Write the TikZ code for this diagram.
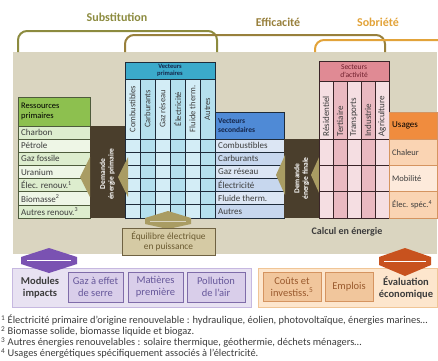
\documentclass[tikz,border=0pt]{standalone}
\usepackage{fontspec}
\setmainfont{Carlito}
\definecolor{beige}{HTML}{DAD5C0}
\definecolor{resHead}{HTML}{8DC04F}
\definecolor{resA}{HTML}{DDEDCE}
\definecolor{resB}{HTML}{EEF6E6}
\definecolor{resLine}{HTML}{4E5B3C}
\definecolor{panel}{HTML}{4A3E2C}
\definecolor{khaki}{HTML}{A99C63}
\definecolor{vpHead}{HTML}{3BAACB}
\definecolor{vpA}{HTML}{D3EDF6}
\definecolor{vpB}{HTML}{B5E0EE}
\definecolor{gridCol}{HTML}{1E2B3A}
\definecolor{vsHead}{HTML}{4F8AD6}
\definecolor{vsA}{HTML}{DCE6F4}
\definecolor{vsB}{HTML}{C7D7EE}
\definecolor{navy}{HTML}{14254A}
\definecolor{saHead}{HTML}{E08A94}
\definecolor{saA}{HTML}{F5DEE2}
\definecolor{saB}{HTML}{EAB9C1}
\definecolor{pkLine}{HTML}{3A2428}
\definecolor{saText}{HTML}{6E1E2C}
\definecolor{usHead}{HTML}{F08C3E}
\definecolor{usA}{HTML}{FAD4B3}
\definecolor{usB}{HTML}{FDEADB}
\definecolor{subCol}{HTML}{8C8B3F}
\definecolor{effCol}{HTML}{98803C}
\definecolor{sobCol}{HTML}{E2A33A}
\definecolor{eqFill}{HTML}{D5CAA4}
\definecolor{eqLine}{HTML}{6F6242}
\definecolor{eqText}{HTML}{6A5A30}
\definecolor{purBand}{HTML}{E8E2F2}
\definecolor{purBandLine}{HTML}{C6B8E0}
\definecolor{purBox}{HTML}{D9CEEA}
\definecolor{purLine}{HTML}{7F6CA9}
\definecolor{purText}{HTML}{66579A}
\definecolor{purArrow}{HTML}{7A52B2}
\definecolor{orBand}{HTML}{FDE6CD}
\definecolor{orBandLine}{HTML}{F0C596}
\definecolor{orBox}{HTML}{F1C69C}
\definecolor{orLine}{HTML}{D59460}
\definecolor{orText}{HTML}{9A5A2E}
\definecolor{orArrow}{HTML}{C8521E}
\definecolor{txtCol}{HTML}{3C3C3C}
\begin{document}
\begin{tikzpicture}[x=1pt, y=-1pt,
    txt/.style={anchor=west, inner sep=0pt, text=txtCol, font=\fontsize{9}{9}\selectfont},
    head/.style={align=left, inner sep=0pt, font=\fontsize{7}{8}\selectfont},
    colname/.style={rotate=90, inner sep=0pt, text=txtCol, font=\fontsize{8.5}{9}\selectfont},
    demand/.style={rotate=90, align=center, inner sep=0pt, text=white, font=\bfseries\fontsize{7.5}{8.5}\selectfont},
    bracket/.style={line width=2pt, rounded corners=9pt},
    bigtitle/.style={inner sep=0pt, font=\bfseries\fontsize{12}{13}\selectfont},
    modbox/.style={align=center, inner sep=0pt, font=\fontsize{10.5}{12}\selectfont},
    note/.style={anchor=west, inner sep=0pt, text=txtCol, font=\fontsize{10.4}{11}\selectfont}]

      \useasboundingbox (0,0) rectangle (438,360);

      \fill[beige] (13,52) rectangle (437,254);

      \draw[bracket, subCol] (18,52) -- (18,31) -- (217,31) -- (217,52);
      \draw[bracket, effCol] (125,52) -- (125,35) -- (385,35) -- (385,52);
      \draw[bracket, sobCol] (315,52) -- (315,40) -- (445,40);
      \node[bigtitle, text=subCol] (subst) at (117,17) {Substitution};
      \node[bigtitle, text=effCol] (effic) at (278,22) {Efficacité};
      \node[bigtitle, text=sobCol] (sobri) at (378,22) {Sobriété};

      \filldraw[fill=resHead, draw=resLine, line width=0.6pt] (18,97) rectangle (90,126);
      \node[head, anchor=west, text=black, font=\fontsize{8.5}{10}\selectfont] (resT) at (21,111.5) {Ressources\\primaires};
      \foreach \t/\c [count=\i] in {Charbon/resA, Pétrole/resB, Gaz fossile/resA, Uranium/resB,
          Élec. renouv.\textsuperscript{1}/resA, Biomasse\textsuperscript{2}/resB, Autres renouv.\textsuperscript{3}/resA}
      {
        \filldraw[fill=\c, draw=resLine, line width=0.6pt] (18,{112.85+13.15*\i}) rectangle (90,{126+13.15*\i});
        \node[txt] (res\i) at (21,{119.4+13.15*\i}) {\t};
      }

      \fill[panel] (90,126) rectangle (125,218);
      \node[demand] (dprim) at (107.5,174) {Demande\\énergie primaire};

      \filldraw[fill=vpHead, draw=gridCol, line width=0.8pt] (125,62) rectangle (215,79);
      \node[head, align=center, text=navy, font=\bfseries\fontsize{6.5}{7.5}\selectfont] (vpT) at (170,70.5) {Vecteurs\\primaires};
      \foreach \t/\c [count=\i] in {Combustibles/vpA, Carburants/vpB, Gaz réseau/vpA, Électricité/vpB, Fluide therm./vpA, Autres/vpB}
      {
        \filldraw[fill=\c, draw=gridCol, line width=0.8pt] ({110+15*\i},79) rectangle ({125+15*\i},218);
        \node[colname] (vp\i) at ({117.5+15*\i},109) {\t};
      }
      \foreach \j in {0,...,5}
      \draw[gridCol, line width=0.8pt] (125,{139+13.15*\j}) -- (215,{139+13.15*\j});

      \filldraw[fill=vsHead, draw=gridCol, line width=0.6pt] (215,112) rectangle (284,139);
      \node[head, anchor=west, text=navy, font=\bfseries\fontsize{7.5}{9}\selectfont] (vsT) at (218,125.5) {Vecteurs\\secondaires};
      \foreach \t/\c [count=\i] in {Combustibles/vsA, Carburants/vsB, Gaz réseau/vsA, Électricité/vsB, Fluide therm./vsA, Autres/vsB}
      {
        \filldraw[fill=\c, draw=gridCol, line width=0.6pt] (215,{125.85+13.15*\i}) rectangle (284,{139+13.15*\i});
        \node[txt] (vs\i) at (218,{132.4+13.15*\i}) {\t};
      }

      \fill[panel] (284,139) rectangle (319,218);
      \node[demand] (dfin) at (301.5,178.5) {Demande\\énergie finale};

      \fill[khaki] (80,177) -- (90,157) -- (90,197) -- cycle;
      \fill[khaki] (118,177) -- (128,157) -- (128,197) -- cycle;
      \fill[khaki] (276,175) -- (285,155) -- (285,195) -- cycle;
      \fill[khaki] (311,175) -- (320,155) -- (320,195) -- cycle;

      \filldraw[fill=saHead, draw=pkLine, line width=0.8pt] (319,61) rectangle (389,81);
      \node[head, align=center, text=saText, font=\fontsize{7.5}{8.5}\selectfont] (saT) at (354,71) {Secteurs\\d'activité};
      \foreach \t/\c [count=\i] in {Résidentiel/saA, Tertiaire/saB, Transports/saA, Industrie/saB, Agriculture/saA}
      {
        \filldraw[fill=\c, draw=pkLine, line width=0.8pt] ({305+14*\i},81) rectangle ({319+14*\i},218);
        \node[colname, anchor=west, font=\fontsize{9}{9}\selectfont] (sa\i) at ({312+14*\i},136.5) {\t};
      }
      \foreach \j in {0,...,2}
      \draw[pkLine, line width=0.8pt] (319,{139+26.33*\j}) -- (389,{139+26.33*\j});

      \filldraw[fill=usHead, draw=orLine, line width=0.6pt] (389,112) rectangle (437,139);
      \node[txt, text=black] (usT) at (392,125.5) {Usages};
      \foreach \t/\c [count=\i] in {Chaleur/usA, Mobilité/usB, Élec. spéc.\textsuperscript{4}/usA}
      {
        \filldraw[fill=\c, draw=orLine, line width=0.6pt] (389,{112.67+26.33*\i}) rectangle (437,{139+26.33*\i});
        \node[txt, font=\fontsize{8.5}{9}\selectfont] (us\i) at (392,{125.8+26.33*\i}) {\t};
      }

      \node[inner sep=0pt, text=txtCol, font=\bfseries\fontsize{10}{11}\selectfont] (calc) at (347,232) {Calcul en énergie};

      \fill[khaki] (168,211) -- (191,218) -- (191,224) -- (168,229) -- (145,224) -- (145,218) -- cycle;
      \draw[beige, line width=1pt] (150,221) -- (186,221);
      \filldraw[fill=eqFill, draw=eqLine, line width=1pt] (122,228) rectangle (215,255);
      \node[modbox, text=eqText, font=\fontsize{9.4}{10.5}\selectfont] (equi) at (168.5,241.5) {Équilibre électrique\\en puissance};

      \filldraw[fill=purBand, draw=purBandLine, line width=1pt] (12,268) rectangle (251,307);
      \node[modbox, font=\bfseries\fontsize{10.5}{12}\selectfont, text=txtCol] (modimp) at (40,288) {Modules\\impacts};
      \filldraw[fill=purBox, draw=purLine, line width=0.8pt] (68,272) rectangle (123,302);
      \node[modbox, text=purText] (ges) at (95.5,287) {Gaz à effet\\de serre};
      \filldraw[fill=purBox, draw=purLine, line width=0.8pt] (128,272) rectangle (183,302);
      \node[modbox, text=purText] (mat) at (155.5,287) {Matières\\première};
      \filldraw[fill=purBox, draw=purLine, line width=0.8pt] (187,272) rectangle (245,302);
      \node[modbox, text=purText] (poll) at (216,287) {Pollution\\de l'air};

      \filldraw[fill=orBand, draw=orBandLine, line width=1pt] (258,268) rectangle (437,307);
      \filldraw[fill=orBox, draw=orLine, line width=0.8pt] (263,272) rectangle (321,301);
      \node[modbox, text=orText] (cout) at (292,286.5) {Coûts et\\investiss.\textsuperscript{5}};
      \filldraw[fill=orBox, draw=orLine, line width=0.8pt] (325,272) rectangle (373,301);
      \node[modbox, text=orText] (empl) at (349,286.5) {Emplois};
      \node[modbox, font=\bfseries\fontsize{10.5}{12}\selectfont, text=txtCol] (evalu) at (406,288) {Évaluation\\économique};

      \fill[purArrow] (49,248) -- (77,257) -- (77,264) -- (49,273) -- (21,264) -- (21,257) -- cycle;
      \draw[white, line width=1pt] (27,260.5) -- (71,260.5);
      \fill[orArrow] (405,248) -- (431,257) -- (431,265) -- (405,276) -- (379,265) -- (379,257) -- cycle;
      \draw[white, line width=1pt] (384,261) -- (426,261);

      \node[note] (fn1) at (1,320.5) {\textsuperscript{1} Électricité primaire d'origine renouvelable : hydraulique, éolien, photovoltaïque, énergies marines…};
      \node[note] (fn2) at (1,331.5) {\textsuperscript{2} Biomasse solide, biomasse liquide et biogaz.};
      \node[note] (fn3) at (1,342.5) {\textsuperscript{3} Autres énergies renouvelables : solaire thermique, géothermie, déchets ménagers…};
      \node[note] (fn4) at (1,353.5) {\textsuperscript{4} Usages énergétiques spécifiquement associés à l'électricité.};
    \end{tikzpicture}
\end{document}
